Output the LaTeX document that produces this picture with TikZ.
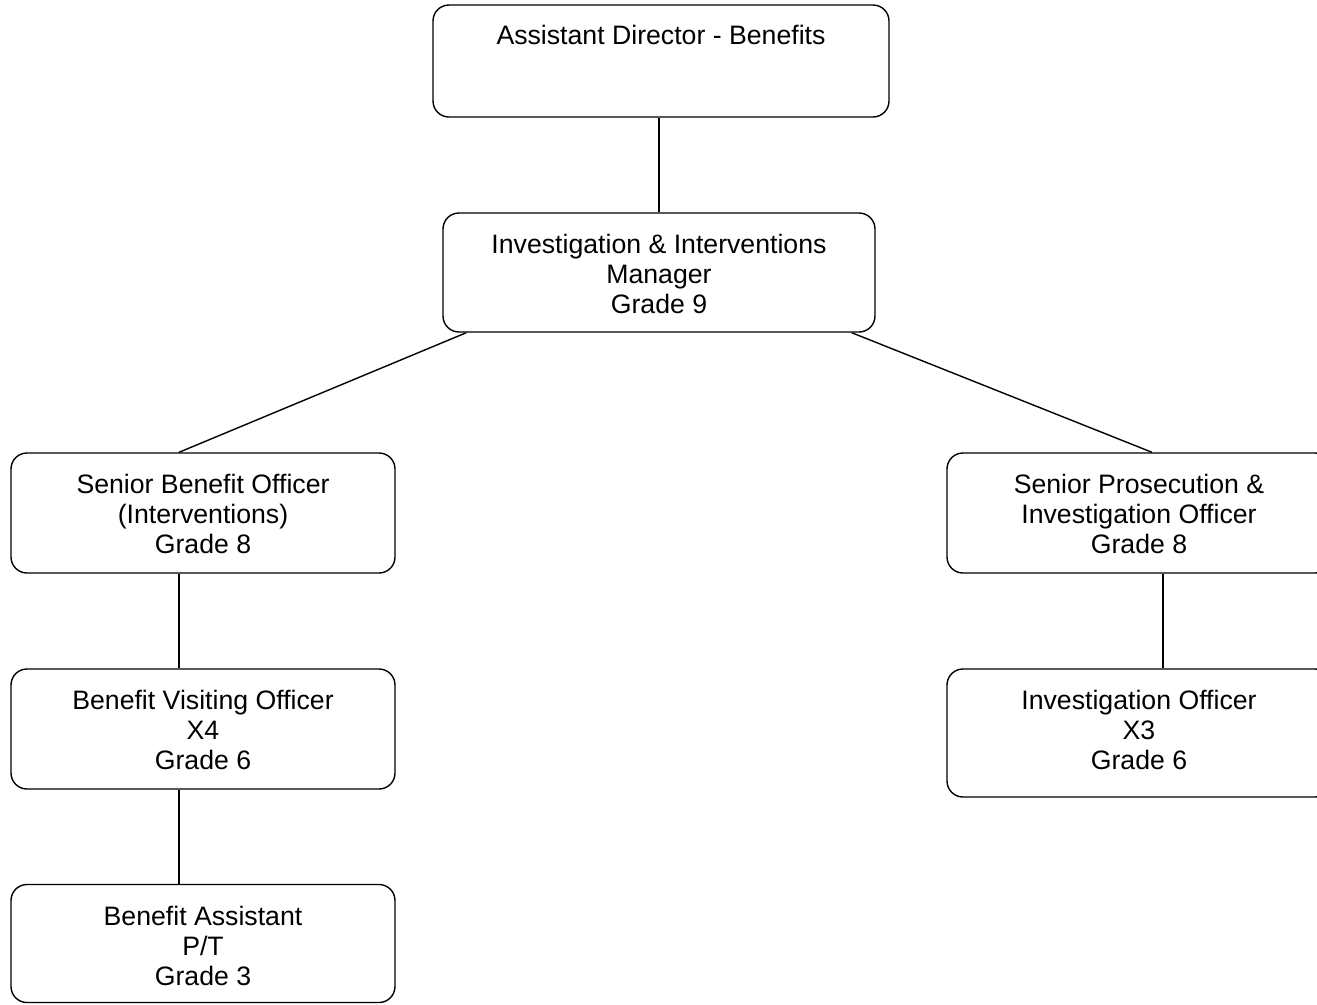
\documentclass[tikz,border=0pt]{standalone}
\usepackage{fontspec}
\setmainfont{Liberation Sans}
\usetikzlibrary{calc}
\newcommand{\boxtext}[3]{\parbox[c][#2][t]{#1}{\centering\fontsize{20pt}{22.5pt}\selectfont\vspace*{14.8pt}#3\par}}
\begin{document}
\begin{tikzpicture}[x=0.75pt,y=-0.75pt,
  orgbox/.style={draw, line width=1.05pt, rounded corners=12pt, inner sep=0pt, fill=white},
  link/.style={draw, line width=1.05pt}]
\clip (0,0) rectangle (1317,1004);
\fill[white] (0,0) rectangle (1317,1004);
\node[orgbox] (ad) at (661,61) {\boxtext{342pt}{84pt}{\vspace*{-1pt}\strut Assistant Director - Benefits}};
\node[orgbox] (iim) at (659,272.5) {\boxtext{324pt}{89.25pt}{\strut Investigation \& Interventions\\\strut Manager\\\strut Grade 9}};
\node[orgbox] (sbo) at (203,513) {\boxtext{288pt}{90pt}{\strut Senior Benefit Officer\\\strut (Interventions)\\\strut Grade 8}};
\node[orgbox] (bvo) at (203,729) {\boxtext{288pt}{90pt}{\strut Benefit Visiting Officer\\\strut X4\\\strut Grade 6}};
\node[orgbox] (ba) at (203,943.5) {\boxtext{288pt}{88.5pt}{\strut Benefit Assistant\\\strut P/T\\\strut Grade 3}};
\node[orgbox] (spio) at (1139,513) {\boxtext{288pt}{90pt}{\strut Senior Prosecution \&\\\strut Investigation Officer\\\strut Grade 8}};
\node[orgbox] (io) at (1139,733) {\boxtext{288pt}{96pt}{\strut Investigation Officer\\\strut X3\\\strut Grade 6}};
\draw[link] (iim.north) -- (iim.north |- ad.south);
\draw[link] ($(iim.south west)+(24,0)$) -- ($(sbo.north)+(-24,0)$);
\draw[link] ($(iim.south east)+(-24,0)$) -- ($(spio.north)+(13,0)$);
\draw[link] ($(sbo.south)+(-24,0)$) -- ($(bvo.north)+(-24,0)$);
\draw[link] ($(bvo.south)+(-24,0)$) -- ($(ba.north)+(-24,0)$);
\draw[link] ($(spio.south)+(24,0)$) -- ($(io.north)+(24,0)$);
\end{tikzpicture}
\end{document}
